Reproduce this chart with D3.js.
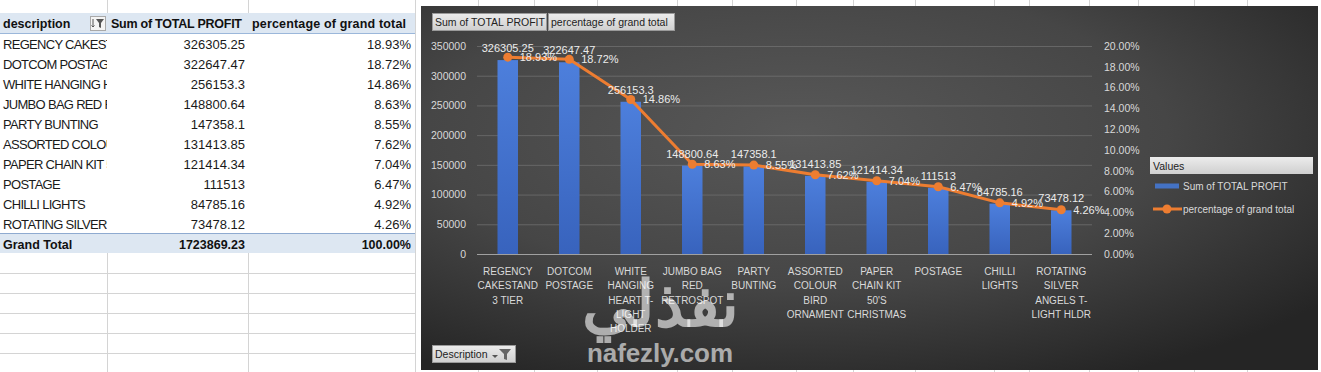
<!DOCTYPE html>
<html>
<head>
<meta charset="utf-8">
<script src="https://cdn.jsdelivr.net/npm/d3@7"></script>
<style>
body { margin: 0; background: #fff; }
text { font-family: "Liberation Sans", Arial, sans-serif; }
</style>
</head>
<body>
<div id="chart"></div>
<script>
// Data
var categories = ["REGENCY CAKESTAND 3 TIER", "DOTCOM POSTAGE", "WHITE HANGING HEART T-LIGHT HOLDER",
    "JUMBO BAG RED RETROSPOT", "PARTY BUNTING", "ASSORTED COLOUR BIRD ORNAMENT",
    "PAPER CHAIN KIT 50'S CHRISTMAS", "POSTAGE", "CHILLI LIGHTS", "ROTATING SILVER ANGELS T-LIGHT HLDR"];
var tickLines = [
    ["REGENCY", "CAKESTAND", "3 TIER"],
    ["DOTCOM", "POSTAGE"],
    ["WHITE", "HANGING", "HEART T-", "LIGHT", "HOLDER"],
    ["JUMBO BAG", "RED", "RETROSPOT"],
    ["PARTY", "BUNTING"],
    ["ASSORTED", "COLOUR", "BIRD", "ORNAMENT"],
    ["PAPER", "CHAIN KIT", "50'S", "CHRISTMAS"],
    ["POSTAGE"],
    ["CHILLI", "LIGHTS"],
    ["ROTATING", "SILVER", "ANGELS T-", "LIGHT HLDR"]
];
var profit = [326305.25, 322647.47, 256153.3, 148800.64, 147358.1, 131413.85, 121414.34, 111513, 84785.16, 73478.12];
var percent = [0.1893, 0.1872, 0.1486, 0.0863, 0.0855, 0.0762, 0.0704, 0.0647, 0.0492, 0.0426];
var grandTotal = 1723869.23;
var grandPercent = 1;
var leftTicks = [0, 50000, 100000, 150000, 200000, 250000, 300000, 350000];
var rightTicks = [0, 0.02, 0.04, 0.06, 0.08, 0.10, 0.12, 0.14, 0.16, 0.18, 0.20];

// SVG
var svgWidth = 1321;
var svgHeight = 372;

var svg = d3.select("#chart")
    .append("svg")
    .attr("width", svgWidth)
    .attr("height", svgHeight);

var defs = svg.append("defs");

var bg = defs.append("radialGradient")
    .attr("id", "bg")
    .attr("cx", "0.42").attr("cy", "0.35").attr("r", "0.75");
bg.append("stop").attr("offset", "0%").attr("stop-color", "#585858");
bg.append("stop").attr("offset", "55%").attr("stop-color", "#464646");
bg.append("stop").attr("offset", "100%").attr("stop-color", "#252525");

var barGrad = defs.append("linearGradient")
    .attr("id", "barGrad").attr("x1", 0).attr("y1", 0).attr("x2", 0).attr("y2", 1);
barGrad.append("stop").attr("offset", "0%").attr("stop-color", "#4d7fdc");
barGrad.append("stop").attr("offset", "100%").attr("stop-color", "#3863bd");

var btnGrad = defs.append("linearGradient")
    .attr("id", "btnGrad").attr("x1", 0).attr("y1", 0).attr("x2", 0).attr("y2", 1);
btnGrad.append("stop").attr("offset", "0%").attr("stop-color", "#ececec");
btnGrad.append("stop").attr("offset", "100%").attr("stop-color", "#cfcfcf");

defs.append("clipPath").attr("id", "colA")
    .append("rect").attr("x", 0).attr("y", 0).attr("width", 107).attr("height", 372);

// Excel grid
var grid = svg.append("g").attr("stroke", "#d4d4d4").attr("stroke-width", 1);
[107.5, 248.5].forEach(function (x) {
    grid.append("line").attr("x1", x).attr("x2", x).attr("y1", 0).attr("y2", 13);
    grid.append("line").attr("x1", x).attr("x2", x).attr("y1", 253).attr("y2", 372);
});
grid.append("line").attr("x1", 415.5).attr("x2", 415.5).attr("y1", 0).attr("y2", 372);
d3.range(273.5, 372, 20).forEach(function (y) {
    grid.append("line").attr("x1", 0).attr("x2", 415).attr("y1", y).attr("y2", y);
});
[478.5, 534.5, 597.5, 677.5, 732.5, 796.5, 853.5, 915.5, 994.5, 1029.5, 1089.5, 1138.5, 1194.5, 1247.5].forEach(function (x) {
    grid.append("line").attr("x1", x).attr("x2", x).attr("y1", 0).attr("y2", 6);
    grid.append("line").attr("x1", x).attr("x2", x).attr("y1", 370).attr("y2", 372);
});

// Pivot table
var table = svg.append("g");
table.append("rect").attr("x", 0).attr("y", 13).attr("width", 415).attr("height", 20).attr("fill", "#dde7f2");
table.append("line").attr("x1", 0).attr("x2", 415).attr("y1", 33.5).attr("y2", 33.5).attr("stroke", "#9bb7da");
table.append("rect").attr("x", 0).attr("y", 233).attr("width", 415).attr("height", 20).attr("fill", "#dde7f2");
table.append("line").attr("x1", 0).attr("x2", 415).attr("y1", 233.5).attr("y2", 233.5).attr("stroke", "#8eaad0");

var header = table.append("g").attr("font-weight", "bold").attr("font-size", "12.5px").attr("fill", "#111");
header.append("text").attr("x", 3).attr("y", 28).text("description");
header.append("text").attr("x", 111).attr("y", 28).attr("textLength", 131).text("Sum of TOTAL PROFIT");
header.append("text").attr("x", 252).attr("y", 28).attr("textLength", 154).text("percentage of grand total");

// header filter icon
var icon = table.append("g").attr("transform", "translate(90,16)");
icon.append("rect").attr("x", 0.5).attr("y", 0.5).attr("width", 15).attr("height", 14)
    .attr("fill", "#f4f4f4").attr("stroke", "#a9a9a9");
icon.append("path").attr("d", "M3,3 L3,11 M1.5,9.5 L3,11 L4.5,9.5").attr("stroke", "#555").attr("fill", "none");
icon.append("path").attr("d", "M6,3 L14,3 L11,7 L11,12 L9,11 L9,7 Z").attr("fill", "#555");

var rows = table.selectAll(".row")
    .data(categories)
    .enter()
    .append("g")
    .attr("class", "row")
    .attr("font-size", "13px")
    .attr("fill", "#1a1a1a");

// description cell is cut off at the column edge, like Excel does
rows.append("text")
    .attr("clip-path", "url(#colA)")
    .attr("x", 3)
    .attr("y", (d, i) => 49 + i * 20)
    .attr("letter-spacing", "-0.7px")
    .text(d => d);
rows.append("text")
    .attr("x", 245)
    .attr("y", (d, i) => 49 + i * 20)
    .attr("text-anchor", "end")
    .text((d, i) => String(profit[i]));
rows.append("text")
    .attr("x", 411)
    .attr("y", (d, i) => 49 + i * 20)
    .attr("text-anchor", "end")
    .text((d, i) => d3.format(".2%")(percent[i]));

var totalRow = table.append("g").attr("font-weight", "bold").attr("font-size", "12.5px").attr("fill", "#111");
totalRow.append("text").attr("x", 3).attr("y", 249).text("Grand Total");
totalRow.append("text").attr("x", 245).attr("y", 249).attr("text-anchor", "end").text(String(grandTotal));
totalRow.append("text").attr("x", 411).attr("y", 249).attr("text-anchor", "end").text(d3.format(".2%")(grandPercent));

// Chart area
var chart = svg.append("g");
chart.append("rect").attr("x", 421).attr("y", 6).attr("width", 897).attr("height", 364).attr("fill", "url(#bg)");

var plotLeft = 477, plotRight = 1092, plotTop = 46, plotBottom = 254;

var xBand = d3.scaleBand()
    .domain(categories)
    .range([plotLeft, plotRight])
    .paddingInner(2 / 3)
    .paddingOuter(1 / 3);

var yLeft = d3.scaleLinear().domain([0, 350000]).range([plotBottom, plotTop]);
var yRight = d3.scaleLinear().domain([0, 0.20]).range([plotBottom, plotTop]);
var cx = d => xBand(d) + xBand.bandwidth() / 2;

// gridlines
var gridAxis = chart.append("g")
    .attr("transform", `translate(${plotLeft},0)`)
    .call(d3.axisLeft(yLeft).tickValues(leftTicks).tickSize(-(plotRight - plotLeft)).tickFormat(""));
gridAxis.select(".domain").remove();
gridAxis.selectAll(".tick line").attr("stroke", "#747474").attr("stroke-opacity", 0.7);
gridAxis.selectAll(".tick").filter(d => d === 0).select("line").attr("stroke", "#a0a0a0").attr("stroke-opacity", 1);

// left axis
var axisL = chart.append("g")
    .attr("transform", "translate(466,0)")
    .call(d3.axisLeft(yLeft).tickValues(leftTicks).tickSize(0).tickPadding(0).tickFormat(d3.format("d")));
axisL.select(".domain").remove();
axisL.selectAll("text").attr("fill", "#d9d9d9").attr("font-size", "10.5px")
    .attr("font-family", "Liberation Sans, Arial, sans-serif");

// right axis
var axisR = chart.append("g")
    .attr("transform", "translate(1104,0)")
    .call(d3.axisRight(yRight).tickValues(rightTicks).tickSize(0).tickPadding(0).tickFormat(d3.format(".2%")));
axisR.select(".domain").remove();
axisR.selectAll("text").attr("fill", "#d9d9d9").attr("font-size", "10.5px")
    .attr("font-family", "Liberation Sans, Arial, sans-serif");

// category axis
var axisX = chart.append("g")
    .attr("transform", `translate(0,${plotBottom})`)
    .call(d3.axisBottom(xBand).tickSize(0));
axisX.select(".domain").remove();
axisX.selectAll(".tick text").each(function (d, i) {
    var t = d3.select(this).text(null)
        .attr("fill", "#d9d9d9")
        .attr("font-size", "10px")
        .attr("font-family", "Liberation Sans, Arial, sans-serif")
        .attr("y", 0).attr("dy", null);
    tickLines[i].forEach(function (line, j) {
        t.append("tspan").attr("x", 0).attr("y", 21 + j * 14.3).text(line);
    });
});

// bars
chart.selectAll(".bar")
    .data(categories)
    .enter()
    .append("rect")
    .attr("class", "bar")
    .attr("x", d => xBand(d))
    .attr("width", xBand.bandwidth())
    .attr("y", (d, i) => yLeft(profit[i]))
    .attr("height", (d, i) => plotBottom - yLeft(profit[i]))
    .attr("fill", "url(#barGrad)");

// line
var line = d3.line()
    .x(d => cx(d))
    .y((d, i) => yRight(percent[i]));

chart.append("path")
    .datum(categories)
    .attr("d", line)
    .attr("fill", "none")
    .attr("stroke", "#ed7d31")
    .attr("stroke-width", 3)
    .attr("stroke-linejoin", "round");

chart.selectAll(".marker")
    .data(categories)
    .enter()
    .append("circle")
    .attr("class", "marker")
    .attr("cx", d => cx(d))
    .attr("cy", (d, i) => yRight(percent[i]))
    .attr("r", 4.5)
    .attr("fill", "#ed7d31");

// data labels
var labels = chart.append("g").attr("fill", "#ececec").attr("font-size", "11px");
labels.selectAll(".barLabel")
    .data(categories)
    .enter()
    .append("text")
    .attr("x", d => cx(d))
    .attr("y", (d, i) => yLeft(profit[i]) - 8)
    .attr("text-anchor", "middle")
    .text((d, i) => String(profit[i]));
labels.selectAll(".pctLabel")
    .data(categories)
    .enter()
    .append("text")
    .attr("x", d => cx(d) + 12)
    .attr("y", (d, i) => yRight(percent[i]) + 4)
    .text((d, i) => d3.format(".2%")(percent[i]));

// field buttons
function fieldButton(x, y, w, label) {
    var b = chart.append("g");
    b.append("rect").attr("x", x + 0.5).attr("y", y + 0.5).attr("width", w).attr("height", 17)
        .attr("fill", "url(#btnGrad)").attr("stroke", "#9a9a9a");
    b.append("text").attr("x", x + 3).attr("y", y + 13).attr("font-size", "10.5px").attr("fill", "#222").text(label);
    return b;
}
fieldButton(432, 13, 114, "Sum of TOTAL PROFIT");
fieldButton(548, 13, 126, "percentage of grand total");
var desc = fieldButton(432, 345, 83, "Description");
desc.append("path").attr("d", "M492,355 L498,355 L495,358 Z").attr("fill", "#555");
desc.append("path").attr("d", "M499,349 L511,349 L507,354 L507,360 L504,359 L504,354 Z").attr("fill", "#666");

// legend
var legend = chart.append("g");
legend.append("rect").attr("x", 1150).attr("y", 157).attr("width", 163).attr("height", 17).attr("fill", "url(#btnGrad)");
legend.append("text").attr("x", 1153).attr("y", 170).attr("font-size", "10.5px").attr("fill", "#222").text("Values");
legend.append("rect").attr("x", 1155).attr("y", 183.5).attr("width", 24).attr("height", 5).attr("fill", "#4472c4");
legend.append("text").attr("x", 1183).attr("y", 190).attr("font-size", "10px").attr("fill", "#d9d9d9").text("Sum of TOTAL PROFIT");
legend.append("line").attr("x1", 1153).attr("x2", 1182).attr("y1", 209).attr("y2", 209)
    .attr("stroke", "#ed7d31").attr("stroke-width", 3);
legend.append("circle").attr("cx", 1167).attr("cy", 209).attr("r", 4.5).attr("fill", "#ed7d31");
legend.append("text").attr("x", 1183).attr("y", 213).attr("font-size", "10px").attr("fill", "#d9d9d9").text("percentage of grand total");

// watermark
var mark = svg.append("g").attr("fill", "#ffffff").attr("fill-opacity", 0.6).attr("text-anchor", "middle");
mark.append("text").attr("x", 660).attr("y", 326).attr("font-size", "64px").attr("font-weight", "bold")
    .attr("font-family", "DejaVu Sans, sans-serif").text("نفذلي");
mark.append("text").attr("x", 660).attr("y", 362).attr("font-size", "26px").attr("font-weight", "bold")
    .attr("textLength", 146).text("nafezly.com");
</script>
</body>
</html>
